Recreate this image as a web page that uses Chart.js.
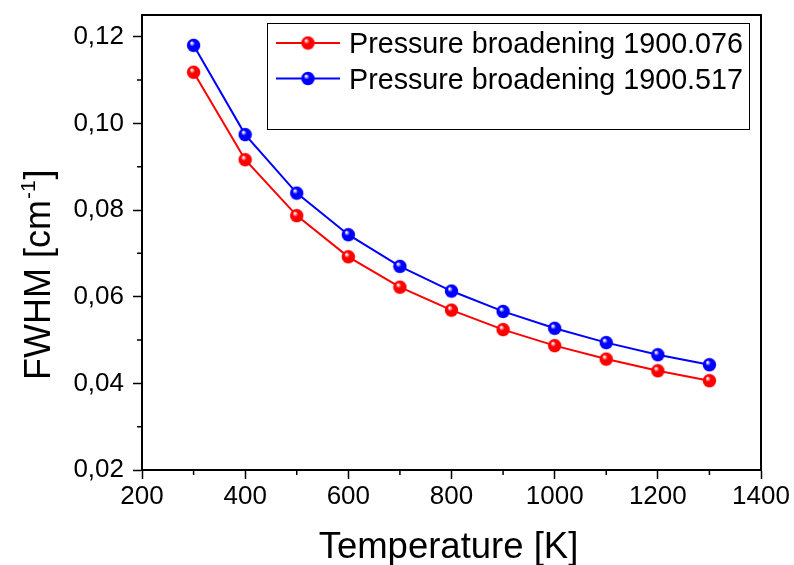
<!DOCTYPE html>
<html>
<head>
<meta charset="utf-8">
<script src="https://cdn.jsdelivr.net/npm/chart.js@4/dist/chart.umd.min.js"></script>
<style>
  html, body { margin: 0; padding: 0; background: #fff; }
  #wrap { width: 794px; height: 565px; }
</style>
</head>
<body>
<div id="wrap"><canvas id="fwhmChart" width="794" height="565"></canvas></div>
<script>
const temperatures = [300, 400, 500, 600, 700, 800, 900, 1000, 1100, 1200, 1300];
const fwhm1900076 = [0.1118, 0.0916, 0.0787, 0.0692, 0.0622, 0.0569, 0.0524, 0.0487, 0.0456, 0.0429, 0.0406];
const fwhm1900517 = [0.1180, 0.0974, 0.0839, 0.0743, 0.0670, 0.0613, 0.0566, 0.0527, 0.0494, 0.0466, 0.0443];
const seriesLabels = ['Pressure broadening 1900.076', 'Pressure broadening 1900.517'];
const seriesColors = ['#ff0000', '#0000ff'];

const xTicks = [200, 400, 600, 800, 1000, 1200, 1400];
const xMinorTicks = [300, 500, 700, 900, 1100, 1300];
const yTicks = [0.02, 0.04, 0.06, 0.08, 0.10, 0.12];
const yMinorTicks = [0.03, 0.05, 0.07, 0.09, 0.11];

const FONT = '"Liberation Sans", Arial, sans-serif';

// shaded ball used as point marker
function ball(color) {
  const c = document.createElement('canvas');
  c.width = 15; c.height = 15;
  const g = c.getContext('2d');
  const grad = g.createRadialGradient(5.5, 5, 0.5, 7.5, 7.5, 7);
  grad.addColorStop(0, '#ffffff');
  grad.addColorStop(0.35, color);
  grad.addColorStop(1, color);
  g.fillStyle = grad;
  g.beginPath();
  g.arc(7.5, 7.5, 6.7, 0, Math.PI * 2);
  g.fill();
  return c;
}
const balls = seriesColors.map(ball);

function toPoints(ys) {
  return temperatures.map((t, i) => ({ x: t, y: ys[i] }));
}

// minor ticks, closing frame and axis titles
const framePlugin = {
  id: 'frame',
  afterDraw(chart) {
    const ctx = chart.ctx;
    const a = chart.chartArea;
    const xs = chart.scales.x, ys = chart.scales.y;
    ctx.save();
    ctx.strokeStyle = '#000';
    ctx.lineWidth = 2;
    ctx.beginPath();
    ctx.moveTo(a.left, a.top); ctx.lineTo(a.right, a.top); ctx.lineTo(a.right, a.bottom);
    ctx.stroke();
    ctx.lineWidth = 1.5;
    ctx.beginPath();
    xMinorTicks.forEach(v => {
      const px = xs.getPixelForValue(v);
      ctx.moveTo(px, a.bottom); ctx.lineTo(px, a.bottom + 5);
    });
    yMinorTicks.forEach(v => {
      const py = ys.getPixelForValue(v);
      ctx.moveTo(a.left, py); ctx.lineTo(a.left - 5, py);
    });
    ctx.stroke();

    // x title
    ctx.fillStyle = '#000';
    ctx.textBaseline = 'alphabetic';
    ctx.textAlign = 'center';
    ctx.font = '36.5px ' + FONT;
    ctx.fillText('Temperature [K]', (a.left + a.right) / 2 - 3, 558);

    // y title with superscript
    ctx.translate(50, a.bottom - 90);
    ctx.rotate(-Math.PI / 2);
    ctx.textAlign = 'left';
    let x = 0;
    ctx.font = '36px ' + FONT;
    ctx.fillText('FWHM [cm', x, 0);
    x += ctx.measureText('FWHM [cm').width + 1;
    ctx.font = '21px ' + FONT;
    ctx.fillText('-1', x, -15);
    x += ctx.measureText('-1').width + 1;
    ctx.font = '36px ' + FONT;
    ctx.fillText(']', x, 0);
    ctx.restore();
  }
};

// boxed legend inside the plot
const legendPlugin = {
  id: 'boxLegend',
  afterDraw(chart) {
    const ctx = chart.ctx;
    const a = chart.chartArea;
    const bx = a.left + 125, by = a.top + 8, bw = 482, bh = 106;
    ctx.save();
    ctx.fillStyle = '#fff';
    ctx.fillRect(bx, by, bw, bh);
    ctx.strokeStyle = '#000';
    ctx.lineWidth = 1;
    ctx.strokeRect(bx + 0.5, by + 0.5, bw, bh);
    ctx.font = '28.7px ' + FONT;
    ctx.textBaseline = 'alphabetic';
    chart.data.datasets.forEach((ds, i) => {
      const cy = by + 20 + i * 35.5;
      ctx.strokeStyle = ds.borderColor;
      ctx.lineWidth = 2;
      ctx.beginPath();
      ctx.moveTo(bx + 9, cy); ctx.lineTo(bx + 73, cy);
      ctx.stroke();
      ctx.drawImage(balls[i], bx + 41 - 7.5, cy - 7.5);
      ctx.fillStyle = '#000';
      ctx.fillText(ds.label, bx + 82, cy + 10);
    });
    ctx.restore();
  }
};

new Chart(document.getElementById('fwhmChart'), {
  type: 'line',
  data: {
    datasets: [fwhm1900076, fwhm1900517].map((ys, i) => ({
      label: seriesLabels[i],
      data: toPoints(ys),
      borderColor: seriesColors[i],
      backgroundColor: seriesColors[i],
      borderWidth: 2,
      pointStyle: balls[i],
      pointRadius: 6.5,
      tension: 0
    }))
  },
  options: {
    responsive: false,
    animation: false,
    layout: { padding: { top: 15, right: 33, left: 0, bottom: 0 } },
    plugins: { legend: { display: false }, tooltip: { enabled: false } },
    scales: {
      x: {
        type: 'linear',
        min: 200,
        max: 1400,
        afterFit(s) { s.height = 95; s.paddingLeft = 0; s.paddingRight = 0; },
        afterBuildTicks(s) { s.ticks = xTicks.map(v => ({ value: v })); },
        grid: { drawOnChartArea: false, drawTicks: true, tickLength: 9, tickWidth: 1.5, tickColor: '#000' },
        border: { color: '#000', width: 2 },
        ticks: {
          color: '#000',
          font: { family: FONT, size: 26 },
          padding: 2,
          maxRotation: 0,
          callback: v => String(v)
        }
      },
      y: {
        min: 0.02,
        max: 0.125,
        afterFit(s) { s.width = 142; s.paddingTop = 0; s.paddingBottom = 0; },
        afterBuildTicks(s) { s.ticks = yTicks.map(v => ({ value: v })); },
        grid: { drawOnChartArea: false, drawTicks: true, tickLength: 9, tickWidth: 1.5, tickColor: '#000' },
        border: { color: '#000', width: 2 },
        ticks: {
          color: '#000',
          font: { family: FONT, size: 26 },
          padding: 9,
          callback: v => v.toFixed(2).replace('.', ',')
        }
      }
    }
  },
  plugins: [framePlugin, legendPlugin]
});
</script>
</body>
</html>
